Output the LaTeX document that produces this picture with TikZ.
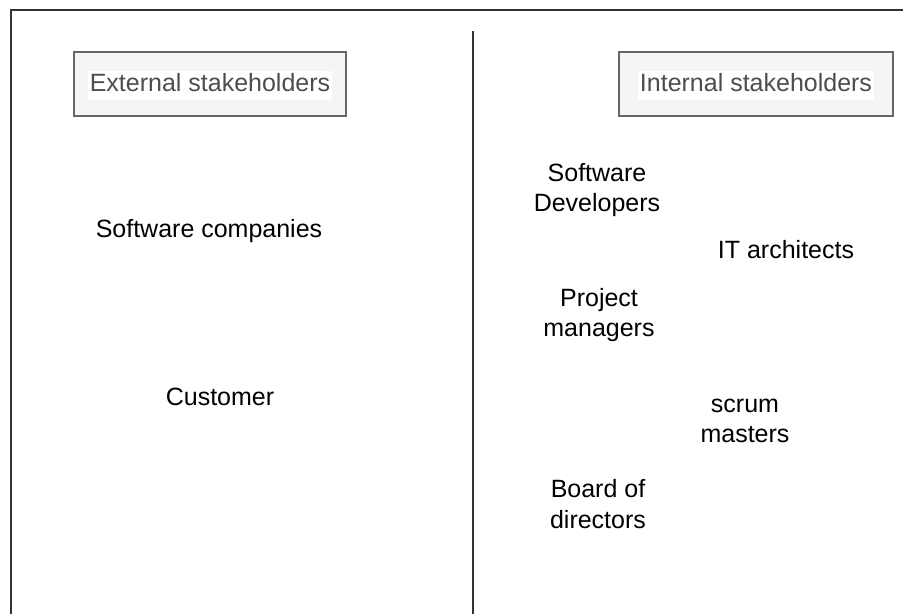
\documentclass[tikz,border=0pt]{standalone}
\usepackage{fontspec}
\setmainfont{Liberation Sans}
\definecolor{framecol}{HTML}{333333}
\definecolor{boxfill}{HTML}{F5F5F5}
\definecolor{boxline}{HTML}{666666}
\definecolor{headtext}{HTML}{4D4D4D}
\begin{document}
\begin{tikzpicture}[x=1pt,y=-1pt,
  every node/.style={font=\fontsize{25}{30.5}\selectfont, align=center, inner sep=0pt},
  oneline/.style={text height=18pt, text depth=5pt},
  frameline/.style={draw=framecol, line width=2pt},
  headbox/.style={draw=boxline, fill=boxfill, line width=1.5pt, minimum width=272pt, minimum height=64pt},
  headlabel/.style={oneline, fill=white, text=headtext, inner xsep=1.5pt, inner ysep=3pt},
  item/.style={text=black}]
  \useasboundingbox (0,0) rectangle (903,614);
  % outer frame (left and top edges) and the central divider
  \coordinate (fbl) at (11,614);
  \coordinate (ftl) at (11,10);
  \coordinate (ftr) at (903,10);
  \coordinate (dtop) at (472.5,31);
  \coordinate (dbot) at (472.5,614);
  \draw[frameline] (fbl) -- (ftl) -- (ftr);
  \draw[frameline] (dtop) -- (dbot);
  % section headings
  \node[headbox] (extbox) at (210,84) {};
  \node[headlabel] (extlab) at ([yshift=-1pt]extbox.center) {External stakeholders};
  \node[headbox, minimum width=274pt] (intbox) at (756,84) {};
  \node[headlabel] (intlab) at ([yshift=-1pt]intbox.center) {Internal stakeholders};
  % external stakeholders
  \node[item, oneline] (swc) at (209,231) {Software companies};
  \node[item, oneline] (cust) at (220,399) {Customer};
  % internal stakeholders
  \node[item] (dev) at (597,190) {Software\\Developers};
  \node[item, oneline] (arch) at (786,252) {IT architects};
  \node[item] (pm) at (599,315) {Project\\managers};
  \node[item] (sm) at (745,421) {scrum\\masters};
  \node[item] (bod) at (598,504) {Board of\\directors};
\end{tikzpicture}
\end{document}
